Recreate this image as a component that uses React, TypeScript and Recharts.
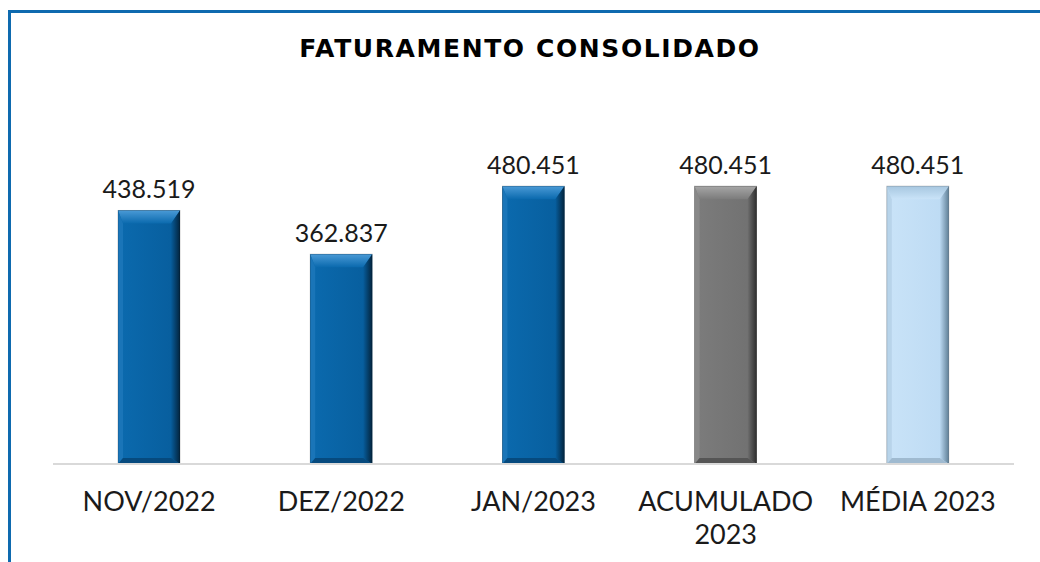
import { Bar, BarChart, LabelList, XAxis, YAxis } from "recharts"

const categories = ["NOV/2022", "DEZ/2022", "JAN/2023", "ACUMULADO 2023", "MÉDIA 2023"]
const values = [438519, 362837, 480451, 480451, 480451]
const tones = ["blue", "blue", "blue", "gray", "light"]

const data = categories.map((name, i) => ({ name, value: values[i], tone: tones[i] }))

const palette: Record<string, { main: string; mainDark: string; top: string; left: string; right: string; bottom: string }> = {
    blue: { main: "#0b6aae", mainDark: "#075d9c", top: "#4a9ad6", left: "#1a75b8", right: "#03243d", bottom: "#064a7e" },
    gray: { main: "#7c7c7c", mainDark: "#707070", top: "#a6a6a6", left: "#888888", right: "#2e2e2e", bottom: "#555555" },
    light: { main: "#c9e3f8", mainDark: "#bcdaf3", top: "#a7c7e0", left: "#b8d4ea", right: "#5f7f96", bottom: "#9fbad0" },
}

const fmt = (v: number) => String(v).replace(/\B(?=(\d{3})+(?!\d))/g, ".")

function BevelBar(props: any) {
    const { x, y, width, height, index, payload } = props
    const c = palette[payload.tone]
    const t = 13, l = 5, r = 9, b = 6
    const id = `g${index}`
    return (
        <g>
            <defs>
                <linearGradient id={id} x1="0" y1="0" x2="1" y2="0">
                    <stop offset="0%" stopColor={c.main} />
                    <stop offset="100%" stopColor={c.mainDark} />
                </linearGradient>
                <linearGradient id={`${id}r`} x1="0" y1="0" x2="1" y2="0">
                    <stop offset="0%" stopColor={c.mainDark} />
                    <stop offset="100%" stopColor={c.right} />
                </linearGradient>
                <linearGradient id={`${id}t`} x1="0" y1="0" x2="0" y2="1">
                    <stop offset="0%" stopColor={c.top} />
                    <stop offset="100%" stopColor={c.main} />
                </linearGradient>
            </defs>
            <rect x={x} y={y} width={width} height={height} fill={`url(#${id})`} />
            <polygon
                points={`${x},${y} ${x + width},${y} ${x + width - r},${y + t} ${x + l},${y + t}`}
                fill={`url(#${id}t)`}
            />
            <polygon
                points={`${x},${y} ${x + l},${y + t} ${x + l},${y + height - b} ${x},${y + height}`}
                fill={c.left}
            />
            <polygon
                points={`${x + width},${y} ${x + width},${y + height} ${x + width - r},${y + height - b} ${x + width - r},${y + t}`}
                fill={`url(#${id}r)`}
            />
            <polygon
                points={`${x},${y + height} ${x + l},${y + height - b} ${x + width - r},${y + height - b} ${x + width},${y + height}`}
                fill={c.bottom}
            />
            <rect x={x} y={y} width={width} height={height} fill="none" stroke="rgba(0,0,0,0.25)" strokeWidth={0.8} />
        </g>
    )
}

// long labels go on two lines, like the spreadsheet does
function CategoryTick(props: any) {
    const { x, y, payload } = props
    const label = String(payload.value)
    const lines = label.length > 12 ? [label.slice(0, label.lastIndexOf(" ")), label.slice(label.lastIndexOf(" ") + 1)] : [label]
    return (
        <text x={x} y={y} textAnchor="middle" fontFamily="Lato, sans-serif" fontSize={27} fill="#1a1a1a">
            {lines.map((ln, i) => (
                <tspan key={i} x={x} dy={i === 0 ? 27 : 33}>
                    {ln}
                </tspan>
            ))}
        </text>
    )
}

export default function App() {
    return (
        <div style={{ position: "absolute", left: 0, top: 0, width: 1040, height: 562, background: "#fff", overflow: "hidden" }}>
            <div
                style={{
                    position: "absolute",
                    left: 8,
                    top: 10,
                    width: 1100,
                    height: 600,
                    borderTop: "3px solid #0e6aaf",
                    borderLeft: "3px solid #0e6aaf",
                }}
            />
            <div
                style={{
                    position: "absolute",
                    left: 0,
                    width: 1060,
                    top: 34,
                    textAlign: "center",
                    fontFamily: "'DejaVu Sans', sans-serif",
                    fontWeight: "bold",
                    fontSize: 25,
                    letterSpacing: 1.6,
                    color: "#000",
                }}
            >
                FATURAMENTO CONSOLIDADO
            </div>
            <div style={{ position: "absolute", left: 0, top: 0 }}>
                <BarChart width={1040} height={562} data={data} margin={{ top: 117, right: 26, bottom: 38, left: 53 }}>
                    <YAxis hide domain={[0, 600000]} />
                    <XAxis
                        dataKey="name"
                        height={60}
                        tickLine={false}
                        axisLine={{ stroke: "#d9d9d9", strokeWidth: 2 }}
                        tick={<CategoryTick />}
                        tickMargin={14}
                        interval={0}
                    />
                    <Bar dataKey="value" barSize={62} shape={<BevelBar />} isAnimationActive={false}>
                        <LabelList
                            dataKey="value"
                            position="top"
                            offset={12}
                            formatter={(v: any) => fmt(Number(v))}
                            style={{ fontFamily: "Lato, sans-serif", fontSize: 25, fill: "#1a1a1a" }}
                        />
                    </Bar>
                </BarChart>
            </div>
        </div>
    )
}
